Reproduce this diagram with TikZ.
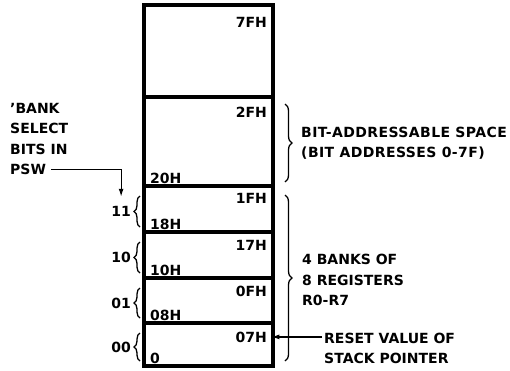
\documentclass[tikz,border=0pt]{standalone}
\usepackage{fontspec}
\setmainfont{DejaVu Sans}
\usetikzlibrary{positioning, arrows.meta, decorations.pathreplacing}

\tikzset{
  memblk/.style={draw, line width=3.2pt, minimum width=129pt, anchor=north west, inner sep=0pt, outer sep=0pt},
  addr/.style={inner sep=0pt},
  brc/.style={decorate, decoration={brace, amplitude=6pt}, line width=1.3pt},
  lbl/.style={align=left, inner sep=0pt},
  arr/.style={line width=1.2pt, -{Latex[length=8pt, width=5pt]}},
}

\begin{document}
\begin{tikzpicture}[x=1pt, y=-1pt, every node/.style={font=\bfseries\fontsize{14}{20.5}\selectfont}]
  \useasboundingbox (0,0) rectangle (510,370);
  % lower 128 bytes of on-chip RAM
  \foreach \blk/\ytop/\ybot/\hi/\dy in {ram/5/97/7FH/22, bit/97/186/2FH/20, rb3/186/232/1FH/17, rb2/232/278/17H/18, rb1/278/323/0FH/18, rb0/323/366/07H/19} {
    \node[memblk, minimum height={(\ybot-\ytop)*1pt}] (\blk) at (144,\ytop) {};
    \node[addr, anchor=base east] (\blk-hi) at ([xshift=-6pt, yshift={-\dy*1pt}]\blk.north east) {\hi};
  }
  \foreach \blk/\lo in {bit/20H, rb3/18H, rb2/10H, rb1/08H, rb0/0}
    \node[addr, anchor=base west] (\blk-lo) at ([xshift=6pt, yshift=3pt]\blk.south west) {\lo};

  % bank select bits
  \foreach \blk/\bits in {rb3/11, rb2/10, rb1/01, rb0/00}
    \draw[brc] ([xshift=-4pt, yshift=5pt]\blk.south west) -- ([xshift=-4pt, yshift=-10pt]\blk.north west)
      node[addr, midway, left=8.5pt] (sel\bits) {\bits};
  \node[lbl, anchor=north west] (bsel) at (10,103) {'BANK\\SELECT\\BITS IN};
  \node[lbl, below=9.5pt of bsel.south west, anchor=north west] (psw) {PSW};
  \draw[arr] ([xshift=5pt]psw.east) -| ([yshift=9pt]sel11.north);

  % right side
  \draw[brc, decoration={amplitude=7pt}] ([xshift=12pt, yshift=-7pt]bit.north east) -- ([xshift=12pt, yshift=4pt]bit.south east)
    coordinate[midway] (bitmid);
  \node[lbl, anchor=west, font=\bfseries\fontsize{14}{20.5}\selectfont\addfontfeature{LetterSpace=3}] (bittxt) at ([xshift=16pt]bitmid)
    {BIT-ADDRESSABLE SPACE\\(BIT ADDRESSES 0-7F)};
  \draw[brc, decoration={amplitude=7pt}] ([xshift=12pt, yshift=-9pt]rb3.north east) -- ([xshift=12pt, yshift=5pt]rb0.south east)
    coordinate[midway] (bankmid);
  \node[lbl, anchor=west] (banktxt) at ([xshift=17pt, yshift=-2pt]bankmid) {4 BANKS OF\\8 REGISTERS\\R0-R7};
  \node[lbl, anchor=north west] (rsttxt) at (324,332.5) {RESET VALUE OF\\STACK POINTER};
  \draw[arr, shorten <=2pt, shorten >=-1.6pt] (rsttxt.west |- rb0-hi) -- (rb0.east |- rb0-hi);
\end{tikzpicture}
\end{document}
